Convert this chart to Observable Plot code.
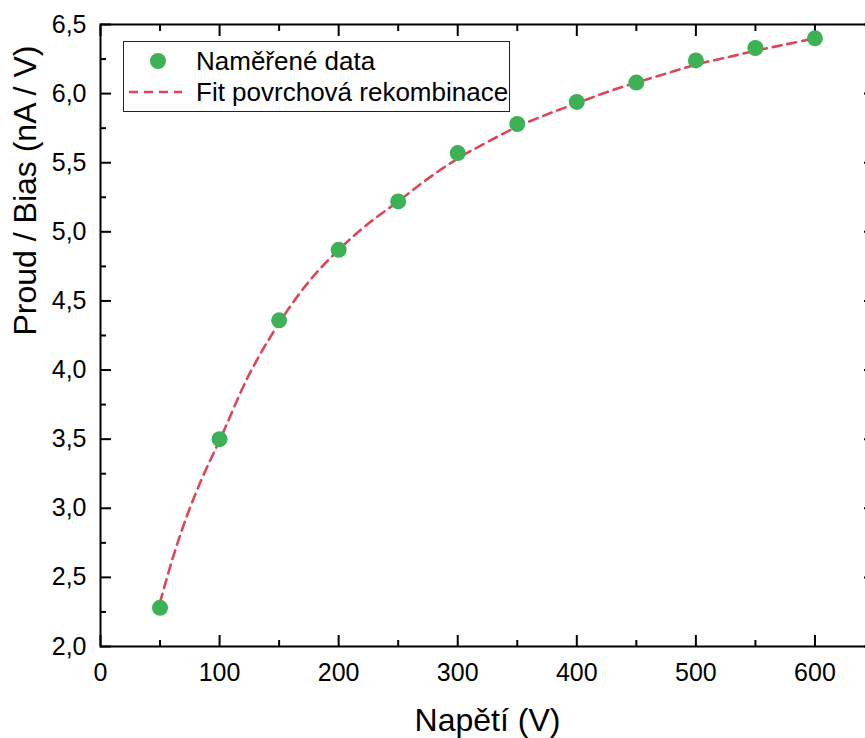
<!DOCTYPE html>
<html>
<head>
<meta charset="utf-8">
<script src="https://cdn.jsdelivr.net/npm/d3@7"></script>
<script src="https://cdn.jsdelivr.net/npm/@observablehq/plot@0.6"></script>
<style>
  body { margin: 0; background: #fff; }
  #wrap { position: relative; width: 865px; height: 738px; font-family: "Liberation Sans", Arial, sans-serif; }
  #legend { position: absolute; left: 123px; top: 41px; width: 385px; height: 69px; border: 1.3px solid #222; background: #fff; }
  #legend svg { position: absolute; left: 0; top: 0; }
</style>
</head>
<body>
<div id="wrap"></div>
<script>
// Measured data
const napeti = [50, 100, 150, 200, 250, 300, 350, 400, 450, 500, 550, 600];
const proudBias = [2.28, 3.50, 4.36, 4.87, 5.22, 5.57, 5.78, 5.94, 6.08, 6.24, 6.33, 6.40];
// Fit curve
const fitV = [50, 62.5, 75, 87.5, 100, 125, 150, 175, 200, 225, 250, 275, 300, 325, 350, 375, 400, 425, 450, 475, 500, 525, 550, 575, 600];
const fitY = [2.32, 2.69, 3.00, 3.26, 3.49, 3.97, 4.34, 4.64, 4.87, 5.06, 5.22, 5.385, 5.53, 5.65, 5.76, 5.85, 5.93, 6.01, 6.08, 6.145, 6.21, 6.26, 6.31, 6.355, 6.40];
// Ticks
const xMajor = [0, 100, 200, 300, 400, 500, 600];
const xMinor = [50, 150, 250, 350, 450, 550];
const yMajor = [2.0, 2.5, 3.0, 3.5, 4.0, 4.5, 5.0, 5.5, 6.0, 6.5];
const yMinor = [2.25, 2.75, 3.25, 3.75, 4.25, 4.75, 5.25, 5.75, 6.25];
const xTitle = "Napětí (V)";
const yTitle = "Proud / Bias (nA / V)";
const legendLabels = ["Naměřené data", "Fit povrchová rekombinace"];

const green = "#3cb156";
const red = "#de4658";
const FONT = "Liberation Sans, Arial, sans-serif";

const data = napeti.map((v, i) => ({v, y: proudBias[i]}));
const fit = fitV.map((v, i) => ({v, y: fitY[i]}));
const fmtY = d => d.toFixed(1).replace(".", ",");
const blank = () => "";

const chart = Plot.plot({
  width: 865,
  height: 738,
  marginLeft: 100,
  marginTop: 24,
  marginBottom: 92,
  marginRight: -9,
  style: {fontFamily: FONT, color: "#000", background: "transparent"},
  x: {domain: [0, 650], label: null},
  y: {domain: [2.0, 6.5], label: null},
  marks: [
    Plot.frame({stroke: "#000", strokeWidth: 2}),
    Plot.axisX(xMajor, {anchor: "bottom", tickSize: -11, tickPadding: 28, strokeWidth: 2, fontSize: 25, label: null}),
    Plot.axisX(xMinor, {anchor: "bottom", tickSize: -6, tickFormat: blank, strokeWidth: 2, label: null}),
    Plot.axisX(xMajor, {anchor: "top", tickSize: -11, tickFormat: blank, strokeWidth: 2, label: null}),
    Plot.axisX(xMinor, {anchor: "top", tickSize: -6, tickFormat: blank, strokeWidth: 2, label: null}),
    Plot.axisY(yMajor, {anchor: "left", tickSize: -11, tickPadding: 25, strokeWidth: 2, fontSize: 25, tickFormat: fmtY, label: null}),
    Plot.axisY(yMinor, {anchor: "left", tickSize: -6, tickFormat: blank, strokeWidth: 2, label: null}),
    Plot.axisY(yMajor, {anchor: "right", tickSize: -11, tickFormat: blank, strokeWidth: 2, label: null}),
    Plot.axisY(yMinor, {anchor: "right", tickSize: -6, tickFormat: blank, strokeWidth: 2, label: null}),
    Plot.line(fit, {x: "v", y: "y", stroke: red, strokeWidth: 2.6, strokeDasharray: "9,6", curve: "catmull-rom"}),
    Plot.dot(data, {x: "v", y: "y", r: 8, fill: green, stroke: "none"}),
    Plot.text([xTitle], {frameAnchor: "bottom", dy: 74, fontSize: 32, fill: "#000", lineAnchor: "middle"}),
    Plot.text([yTitle], {frameAnchor: "left", dx: -75, rotate: -90, fontSize: 32, fill: "#000", lineAnchor: "middle"})
  ]
});

const wrap = document.getElementById("wrap");
wrap.appendChild(chart);

// Legend
const legend = document.createElement("div");
legend.id = "legend";
wrap.appendChild(legend);
const ls = d3.select(legend).append("svg").attr("width", 385).attr("height", 69);
ls.append("circle").attr("cx", 34).attr("cy", 19).attr("r", 8).attr("fill", green);
ls.append("line").attr("x1", 5).attr("x2", 58).attr("y1", 50).attr("y2", 50)
  .attr("stroke", red).attr("stroke-width", 2.6).attr("stroke-dasharray", "9,6");
legendLabels.forEach((t, i) => {
  ls.append("text").attr("x", 72).attr("y", i === 0 ? 19 : 50).attr("dy", "0.35em")
    .attr("font-family", FONT).attr("font-size", 26).attr("fill", "#000").text(t);
});
</script>
</body>
</html>
